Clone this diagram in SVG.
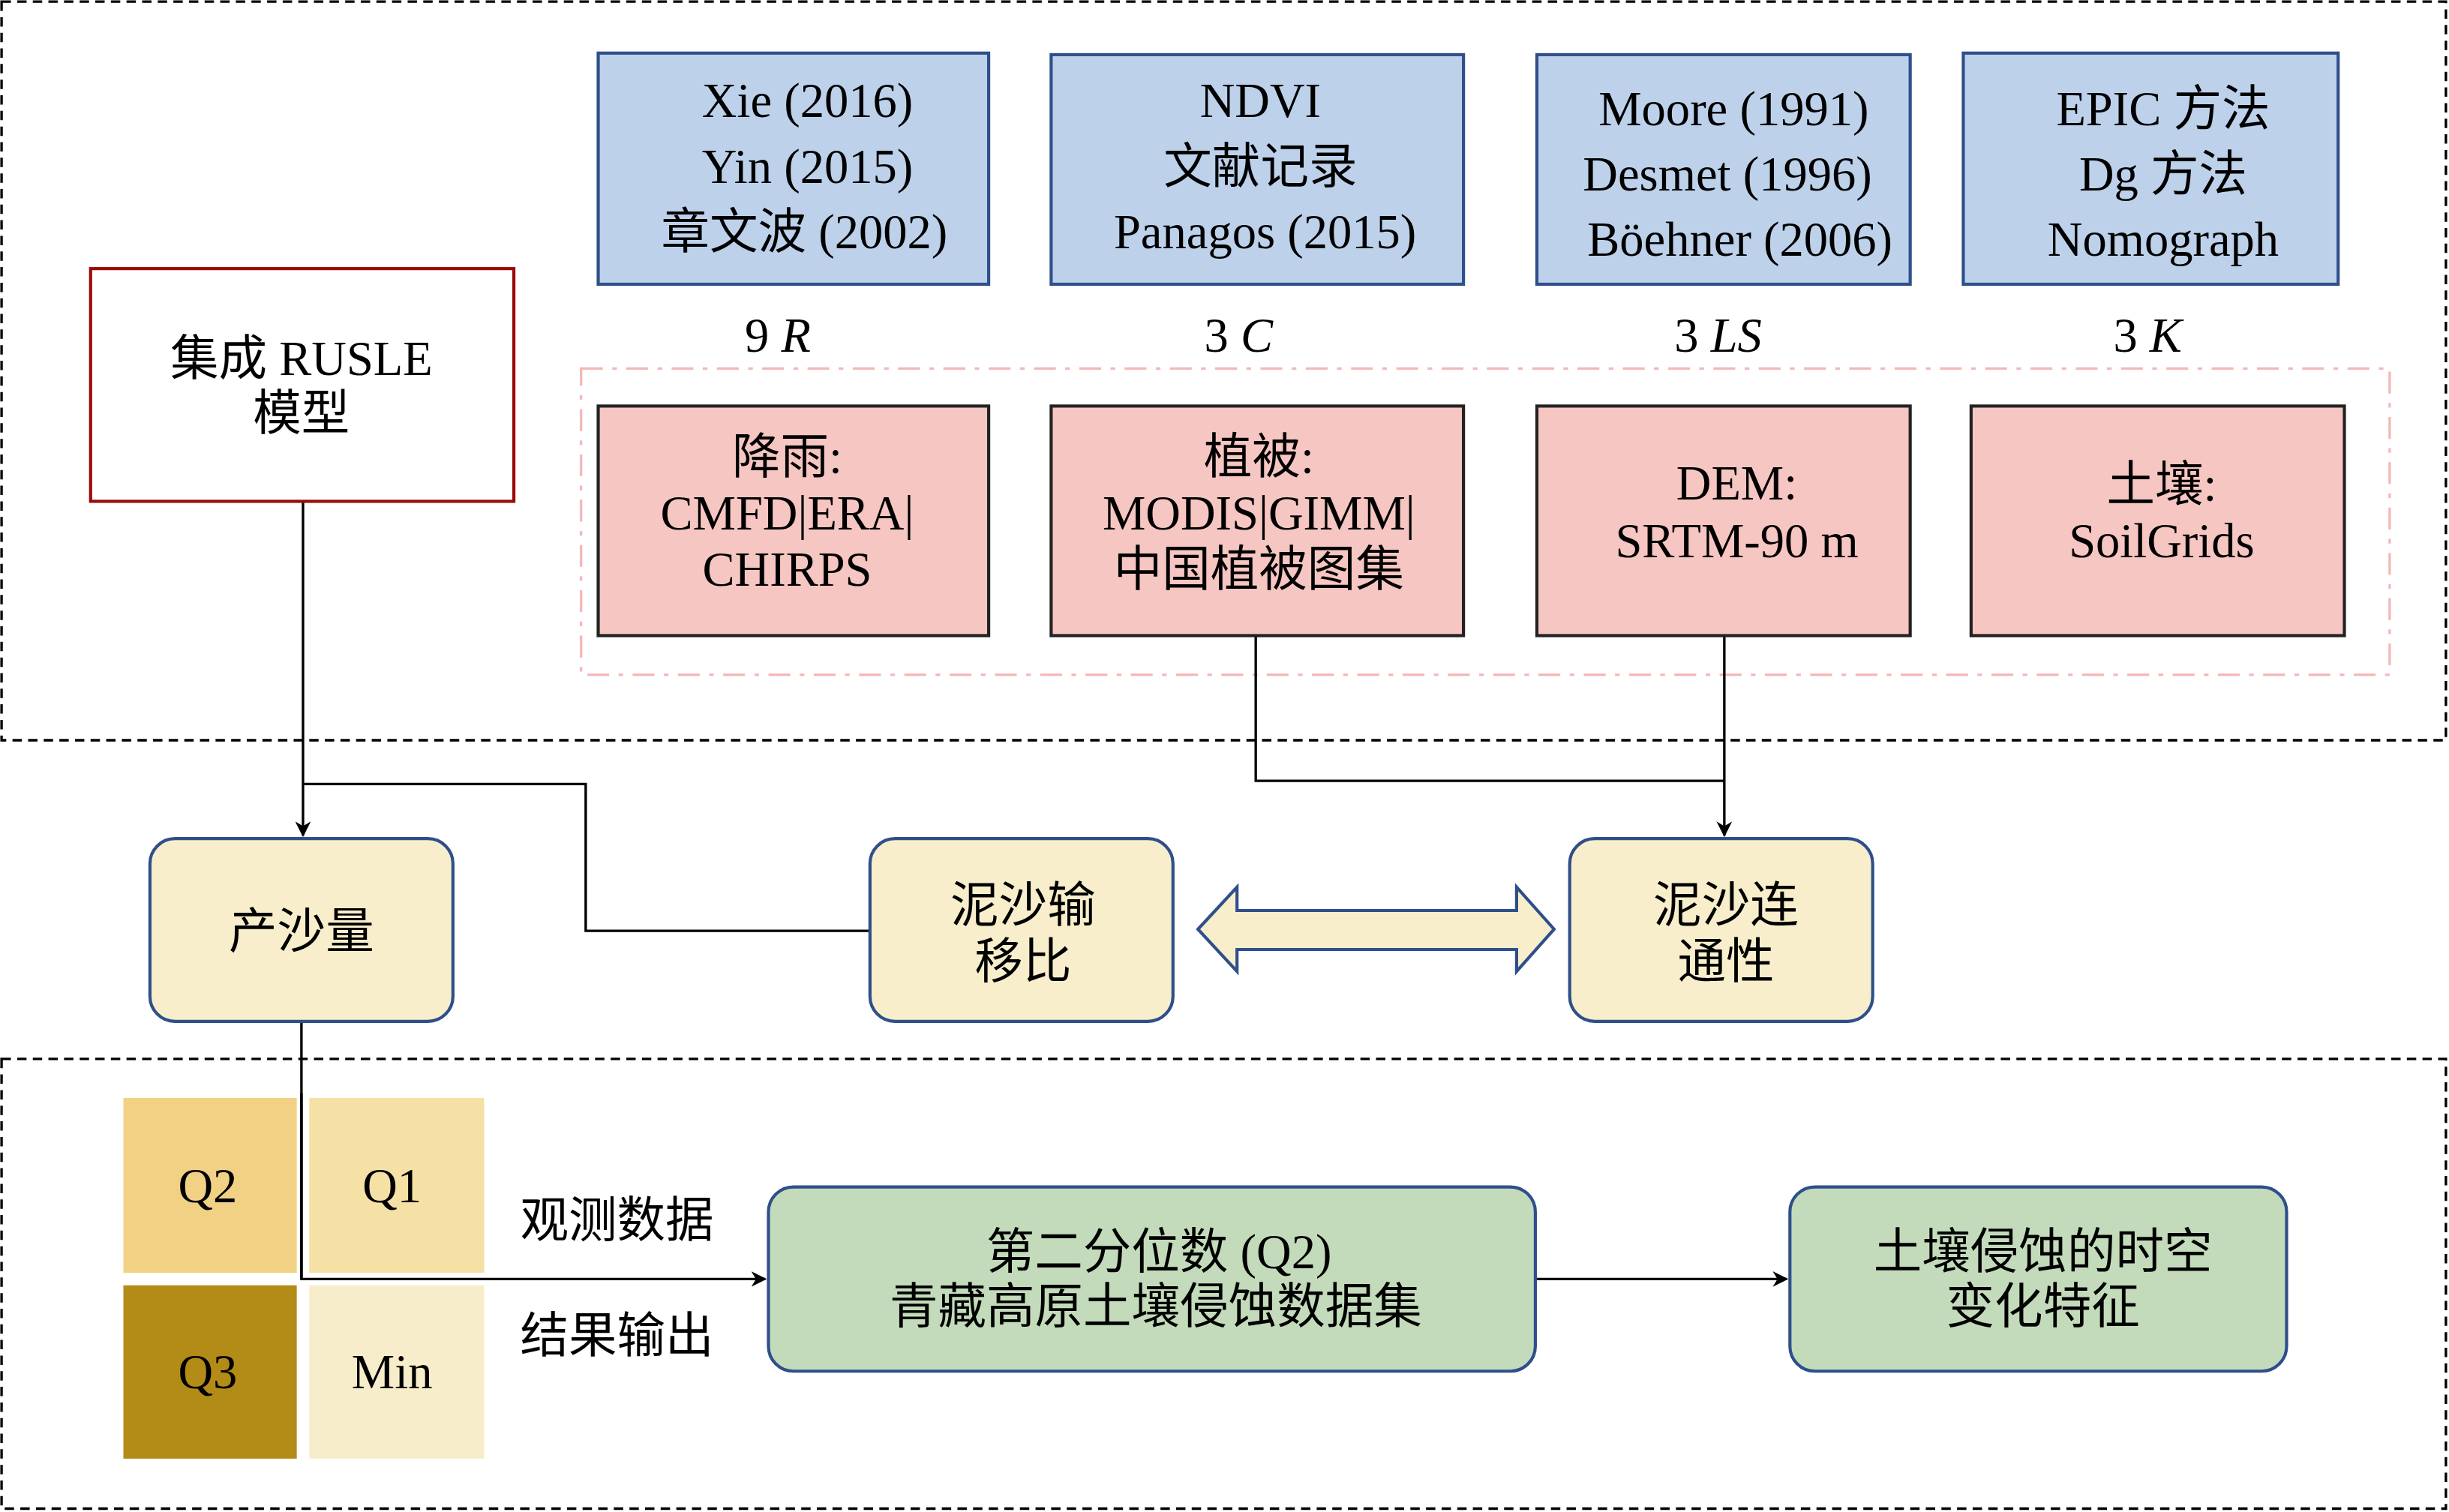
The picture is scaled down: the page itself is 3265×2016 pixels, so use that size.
<svg xmlns="http://www.w3.org/2000/svg" width="3265" height="2016" viewBox="0 0 3265 2016">
<defs>
<style>
text{font-family:"Liberation Serif","Noto Sans CJK SC",serif;font-size:31px;fill:#000;text-anchor:middle}
.blue{fill:#bdd1ea;stroke:#2e4f8a;stroke-width:2}
.pink{fill:#f6c6c2;stroke:#222;stroke-width:2}
.yel{fill:#f8eecb;stroke:#2e4f8a;stroke-width:2}
.grn{fill:#c3dbbb;stroke:#2e4f8a;stroke-width:2}
.ln{fill:none;stroke:#000;stroke-width:1.6}
.frame{fill:none;stroke:#000;stroke-width:1.6;stroke-dasharray:6 4}
</style>
<marker id="ah" markerWidth="10" markerHeight="10" refX="9" refY="5" orient="auto" markerUnits="userSpaceOnUse" viewBox="0 0 10 10">
<path d="M0,0 L10,5 L0,10 L3,5 Z" fill="#000"/>
</marker>
</defs>
<rect width="3265" height="2016" fill="#fff"/>
<g transform="scale(2.0823)">
<g id="frames">
<rect class="frame" x="1" y="1" width="1565" height="473"/>
<rect class="frame" x="1" y="678" width="1565" height="288"/>
<rect x="372" y="236" width="1158" height="196" fill="none" stroke="#f4b8b8" stroke-width="1.6" stroke-dasharray="14 6 3 6"/>
</g>
<g id="connectors">
<path class="ln" d="M194,321 V535" marker-end="url(#ah)"/>
<path class="ln" d="M194,502 H375 V596 H557"/>
<path class="ln" d="M804,407 V500 H1104"/>
<path class="ln" d="M1104,407 V535" marker-end="url(#ah)"/>
<path class="ln" d="M193,654 V819 H490" marker-end="url(#ah)"/>
<path class="ln" d="M983,819 H1144" marker-end="url(#ah)"/>
<path class="yel" d="M767,595 L792,568 V583 H971 V568 L995,595 L971,622 V608 H792 V622 Z"/>
</g>
<g id="rusle"><rect x="58" y="172" width="271" height="149" fill="#fff" stroke="#9b0a0a" stroke-width="2"/>
<text x="193" y="240">集成 RUSLE</text><text x="193" y="275">模型</text></g>
<g id="b1"><rect class="blue" x="383" y="34" width="250" height="148"/><text x="517" y="75">Xie (2016)</text><text x="517" y="117">Yin (2015)</text><text x="515" y="159">章文波 (2002)</text></g>
<g id="b2"><rect class="blue" x="673" y="35" width="264" height="147"/><text x="807" y="75">NDVI</text><text x="807" y="117">文献记录</text><text x="810" y="159">Panagos (2015)</text></g>
<g id="b3"><rect class="blue" x="984" y="35" width="239" height="147"/><text x="1110" y="80">Moore (1991)</text><text x="1106" y="122">Desmet (1996)</text><text x="1114" y="164">Böehner (2006)</text></g>
<g id="b4"><rect class="blue" x="1257" y="34" width="240" height="148"/><text x="1385" y="80">EPIC 方法</text><text x="1385" y="122">Dg 方法</text><text x="1385" y="164">Nomograph</text></g>
<g id="labels">
<text x="498" y="225">9 <tspan font-style="italic">R</tspan></text>
<text x="793" y="225">3 <tspan font-style="italic">C</tspan></text>
<text x="1100" y="225">3 <tspan font-style="italic">LS</tspan></text>
<text x="1375" y="225">3 <tspan font-style="italic">K</tspan></text>
</g>
<g id="p1"><rect class="pink" x="383" y="260" width="250" height="147"/><text x="504" y="303">降雨:</text><text x="504" y="339">CMFD|ERA|</text><text x="504" y="375">CHIRPS</text></g>
<g id="p2"><rect class="pink" x="673" y="260" width="264" height="147"/><text x="806" y="303">植被:</text><text x="806" y="339">MODIS|GIMM|</text><text x="806" y="375">中国植被图集</text></g>
<g id="p3"><rect class="pink" x="984" y="260" width="239" height="147"/><text x="1112" y="320">DEM:</text><text x="1112" y="357">SRTM-90 m</text></g>
<g id="p4"><rect class="pink" x="1262" y="260" width="239" height="147"/><text x="1384" y="321">土壤:</text><text x="1384" y="357">SoilGrids</text></g>
<g id="y1"><rect class="yel" x="96" y="537" width="194" height="117" rx="16"/><text x="193" y="607">产沙量</text></g>
<g id="y2"><rect class="yel" x="557" y="537" width="194" height="117" rx="16"/><text x="655" y="590">泥沙输</text><text x="655" y="626">移比</text></g>
<g id="y3"><rect class="yel" x="1005" y="537" width="194" height="117" rx="16"/><text x="1105" y="590">泥沙连</text><text x="1105" y="626">通性</text></g>
<g id="quad">
<rect x="79" y="703" width="111" height="112" fill="#f1d184"/><text x="133" y="770">Q2</text>
<rect x="198" y="703" width="112" height="112" fill="#f5e0a5"/><text x="251" y="770">Q1</text>
<rect x="79" y="823" width="111" height="111" fill="#b38b17"/><text x="133" y="889">Q3</text>
<rect x="198" y="823" width="112" height="111" fill="#f8edca"/><text x="251" y="889">Min</text>
</g>
<path class="ln" d="M193,700 V819"/>
<g id="side"><text x="395" y="792">观测数据</text><text x="395" y="866">结果输出</text></g>
<g id="g1"><rect class="grn" x="492" y="760" width="491" height="118" rx="16"/><text x="742" y="812">第二分位数 (Q2)</text><text x="740" y="847">青藏高原土壤侵蚀数据集</text></g>
<g id="g2"><rect class="grn" x="1146" y="760" width="318" height="118" rx="16"/><text x="1308" y="812">土壤侵蚀的时空</text><text x="1308" y="847">变化特征</text></g>
</g>
</svg>
